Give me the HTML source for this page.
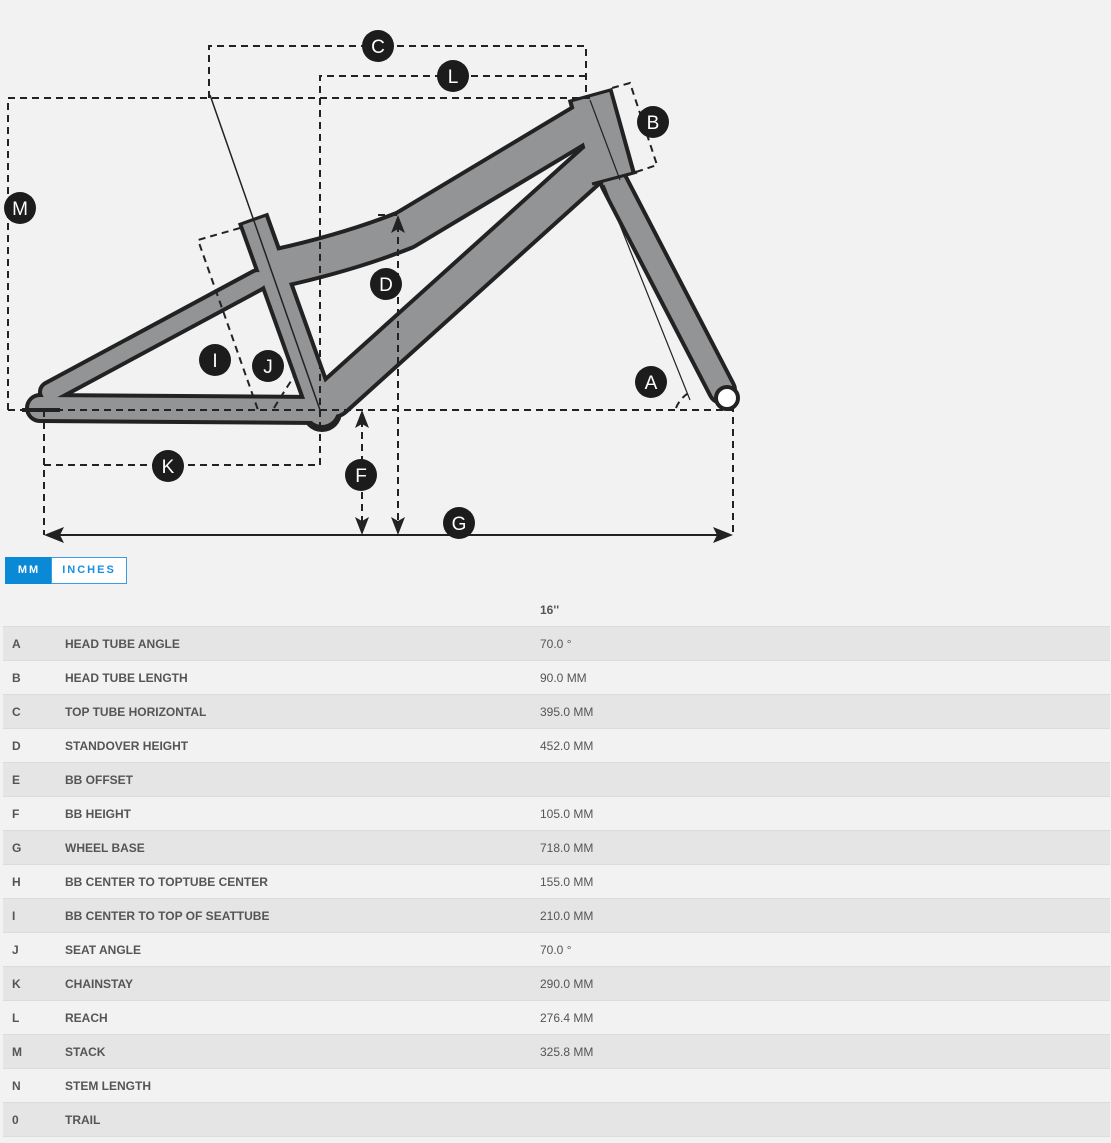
<!DOCTYPE html>
<html><head><meta charset="utf-8"><style>
body{margin:0;width:1111px;height:1143px;background:#f2f2f2;font-family:"Liberation Sans",sans-serif;overflow:hidden;position:relative}
svg{position:absolute;left:0;top:0}
.btn{position:absolute;top:557px;height:25px;line-height:25px;font-size:11px;font-weight:bold;letter-spacing:2px;text-align:center}
table{position:absolute;left:3px;top:593px;width:1107px;border-collapse:collapse;font-size:12px;color:#555}
td{height:33px;padding:0;border-bottom:1px solid #dcdcdc}
td.l{width:53px;padding-left:9px;font-weight:bold}
td.n{width:475px;font-weight:bold}
tr:nth-child(even) td{background:#e5e5e5}
</style></head><body>
<svg width="1111" height="550" viewBox="0 0 1111 550">
<g fill="none" stroke-linejoin="round">
<g stroke="#222">
<path d="M40 408 L318 410" stroke-width="30" stroke-linecap="round"/>
<path d="M50 392 L258 280" stroke-width="24" stroke-linecap="round"/>
<path d="M253 218 L320 405" stroke-width="32"/>
<path d="M278 268 Q350 252 405 230 L585 122" stroke-width="42" stroke-linecap="round"/>
<path d="M333 398 L595 162" stroke-width="42" stroke-linecap="round"/>
<path d="M614 182 L722 390" stroke-width="30" stroke-linecap="round"/>
<path d="M590 94 L614 180" stroke-width="46"/>
</g>
<circle cx="322" cy="412" r="20" fill="#222" stroke="none"/>
<g stroke="#939496">
<path d="M40 408 L318 410" stroke-width="22" stroke-linecap="round"/>
<path d="M50 392 L258 280" stroke-width="16" stroke-linecap="round"/>
<path d="M254 221 L320 405" stroke-width="24"/>
<path d="M278 268 Q350 252 405 230 L585 122" stroke-width="34" stroke-linecap="round"/>
<path d="M333 398 L595 162" stroke-width="34" stroke-linecap="round"/>
<path d="M614 182 L722 390" stroke-width="22" stroke-linecap="round"/>
<path d="M591 97 L613 177" stroke-width="38"/>
</g>
<circle cx="322" cy="410" r="15" fill="#939496" stroke="none"/>
<circle cx="727" cy="398" r="11" fill="#fff" stroke="#222" stroke-width="4"/>
<path d="M22 410 H60" stroke="#222" stroke-width="4"/>
<path d="M210 95 L320 410" stroke="#222" stroke-width="1.5"/>
<path d="M590 100 L620 180" stroke="#222" stroke-width="1.2"/>
<path d="M604 185 L690 400" stroke="#222" stroke-width="1.2"/>
<path d="M592 184 L637 172" stroke="#222" stroke-width="3"/>
</g>
<g fill="none" stroke="#222" stroke-width="2" stroke-dasharray="7,5">
<path d="M209 98 V46 H586 V98"/>
<path d="M320 465 V76 H586"/>
<path d="M8 410 V98 H590"/>
<path d="M8 410 H733 V535"/>
<path d="M44 410 V535"/>
<path d="M44 465 H320"/>
<path d="M362 420 V525"/>
<path d="M398 225 V525"/>
<path d="M378 215 H398"/>
<path d="M612 88 L630 83 L657 165 L636 172"/>
<path d="M240 228 L198 240 L258 410"/>
<path d="M274 408 Q285 390 295 375"/>
<path d="M676 408 Q680 398 690 392"/>
</g>
<path d="M55 535 H722" stroke="#222" stroke-width="2"/>
<g fill="#222">
<path d="M44 535 L64 527 L60 535 L64 543Z"/>
<path d="M733 535 L713 527 L717 535 L713 543Z"/>
<path d="M362 410 L355 428 L362 424 L369 428Z"/>
<path d="M362 535 L355 517 L362 521 L369 517Z"/>
<path d="M398 215 L391 233 L398 229 L405 233Z"/>
<path d="M398 535 L391 517 L398 521 L405 517Z"/>
</g>
<g font-family="Liberation Sans,sans-serif" font-size="19" fill="#fff" text-anchor="middle">
<g fill="#1c1c1c"><circle cx="378" cy="46" r="16"/><circle cx="453" cy="76" r="16"/><circle cx="653" cy="122" r="16"/><circle cx="20" cy="208" r="16"/><circle cx="386" cy="284" r="16"/><circle cx="215" cy="360" r="16"/><circle cx="268" cy="366" r="16"/><circle cx="651" cy="382" r="16"/><circle cx="168" cy="466" r="16"/><circle cx="361" cy="475" r="16"/><circle cx="459" cy="523" r="16"/></g>
<text x="378" y="53">C</text><text x="453" y="83">L</text><text x="653" y="129">B</text><text x="20" y="215">M</text><text x="386" y="291">D</text><text x="215" y="367">I</text><text x="268" y="373">J</text><text x="651" y="389">A</text><text x="168" y="473">K</text><text x="361" y="482">F</text><text x="459" y="530">G</text>
</g>
</svg>
<div class="btn" style="left:5px;width:46px;background:#0a8ad6;color:#fff;border:1px solid #0a8ad6">MM</div>
<div class="btn" style="left:51px;width:76px;background:#fff;color:#1a90e0;border:1px solid #3a9be8;box-sizing:border-box;height:27px">INCHES</div>
<table>
<tr><td class="l" style="background:none"></td><td class="n" style="background:none"></td><td style="background:none;font-weight:bold">16''</td></tr>
<tr><td class="l">A</td><td class="n">HEAD TUBE ANGLE</td><td>70.0 °</td></tr>
<tr><td class="l">B</td><td class="n">HEAD TUBE LENGTH</td><td>90.0 MM</td></tr>
<tr><td class="l">C</td><td class="n">TOP TUBE HORIZONTAL</td><td>395.0 MM</td></tr>
<tr><td class="l">D</td><td class="n">STANDOVER HEIGHT</td><td>452.0 MM</td></tr>
<tr><td class="l">E</td><td class="n">BB OFFSET</td><td></td></tr>
<tr><td class="l">F</td><td class="n">BB HEIGHT</td><td>105.0 MM</td></tr>
<tr><td class="l">G</td><td class="n">WHEEL BASE</td><td>718.0 MM</td></tr>
<tr><td class="l">H</td><td class="n">BB CENTER TO TOPTUBE CENTER</td><td>155.0 MM</td></tr>
<tr><td class="l">I</td><td class="n">BB CENTER TO TOP OF SEATTUBE</td><td>210.0 MM</td></tr>
<tr><td class="l">J</td><td class="n">SEAT ANGLE</td><td>70.0 °</td></tr>
<tr><td class="l">K</td><td class="n">CHAINSTAY</td><td>290.0 MM</td></tr>
<tr><td class="l">L</td><td class="n">REACH</td><td>276.4 MM</td></tr>
<tr><td class="l">M</td><td class="n">STACK</td><td>325.8 MM</td></tr>
<tr><td class="l">N</td><td class="n">STEM LENGTH</td><td></td></tr>
<tr><td class="l">0</td><td class="n">TRAIL</td><td></td></tr>
</table>
</body></html>
